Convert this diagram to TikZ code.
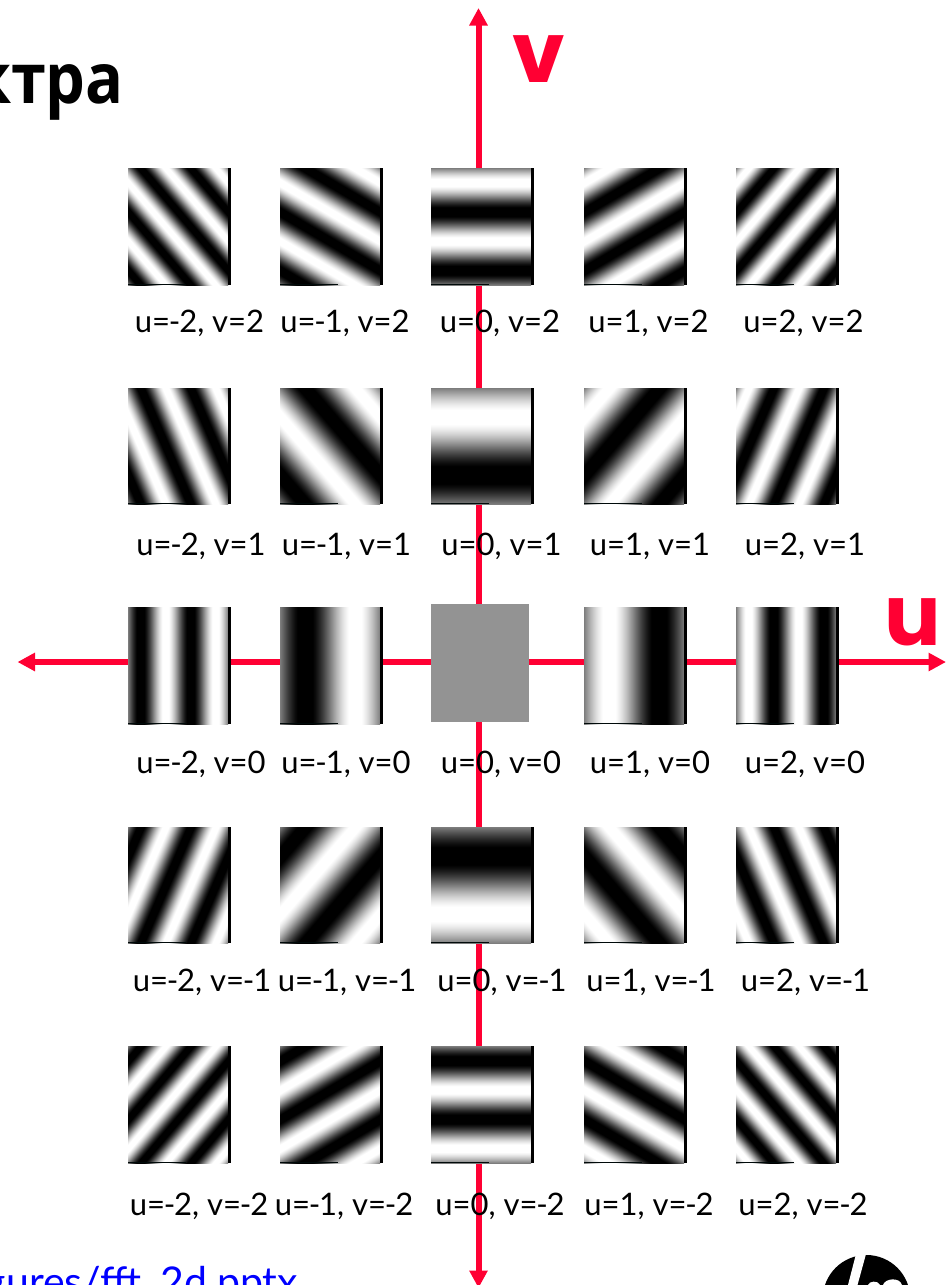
\documentclass[tikz,border=0pt]{standalone}
\usepackage{fontspec}
\setmainfont{Lato}
\newfontfamily\axisfont{Poppins}
\newfontfamily\titlefont{Open Sans}
\usetikzlibrary{arrows.meta}
\definecolor{axisred}{HTML}{FF0033}
\definecolor{centergray}{HTML}{939393}
\definecolor{linkblue}{HTML}{0000FF}
% sinusoidal grating: x,y on the stack in 0..100bp, the path's box maps to 25..75
\newcommand\mkgrating[2]{%
  \pgfdeclarefunctionalshading{grat#1#2}{\pgfpointorigin}{\pgfpoint{100bp}{100bp}}{}{%
    75 exch sub #2 7.2 mul mul exch 25 sub #1 7.2 mul mul add sin 0.55 mul 0.49 add dup dup}}
\foreach \a in {-2,-1,0,1,2}{\foreach \b in {-2,-1,0,1,2}{%
  \edef\tmp{\noexpand\mkgrating{\a}{\b}}\tmp}}
\newcommand\mn{\kern-1.2pt-\kern-1.2pt}
\tikzset{
  axisline/.style={draw=axisred,line width=6pt,{Triangle[width=17.5pt,length=17.5pt]}-{Triangle[width=17.5pt,length=17.5pt]}},
  lab/.style={font=\fontsize{31}{36}\selectfont,text=black,inner sep=0pt,anchor=base},
  biglet/.style={font=\axisfont\bfseries\fontsize{84}{90}\selectfont,text=axisred,inner sep=0pt,anchor=base},
}
% #1 left, #2 top, #3 height, #4 u, #5 v
\newcommand\gratimg[5]{%
  \shade[shading=grat#4#5] (#1,#2) rectangle ++(100,#3);
  \fill[black] (#1+100,#2) rectangle ++(3,#3);
  \fill[black!92!teal] (#1,#2+#3-1) rectangle ++(58,1);
}
\begin{document}
\begin{tikzpicture}[x=1pt,y=-1pt]
\useasboundingbox (0,0) rectangle (946,1285);
\clip (0,0) rectangle (946,1285);
\fill[white] (0,0) rectangle (946,1285);
% axes
\coordinate (vtop) at (478.5,8);
\coordinate (vbot) at (478.5,1288);
\coordinate (hleft) at (17.5,662);
\coordinate (hright) at (946,662);
\draw[axisline] (vbot) -- (vtop);
\draw[axisline] (hleft) -- (hright);
% gratings
\gratimg{128}{168}{117}{-2}{2}
\gratimg{280}{168}{117}{-1}{2}
\gratimg{431}{168}{117}{0}{2}
\gratimg{584}{168}{117}{1}{2}
\gratimg{736}{168}{117}{2}{2}
\gratimg{128}{388}{116}{-2}{1}
\gratimg{280}{388}{116}{-1}{1}
\gratimg{431}{388}{116}{0}{1}
\gratimg{584}{388}{116}{1}{1}
\gratimg{736}{388}{116}{2}{1}
\gratimg{128}{607}{117}{-2}{0}
\gratimg{280}{607}{117}{-1}{0}
\fill[centergray] (431,604) rectangle (529,722);
\gratimg{584}{607}{117}{1}{0}
\gratimg{736}{607}{117}{2}{0}
\gratimg{128}{827}{116}{-2}{-1}
\gratimg{280}{827}{116}{-1}{-1}
\gratimg{431}{827}{116}{0}{-1}
\gratimg{584}{827}{116}{1}{-1}
\gratimg{736}{827}{116}{2}{-1}
\gratimg{128}{1046}{117}{-2}{-2}
\gratimg{280}{1046}{117}{-1}{-2}
\gratimg{431}{1046}{117}{0}{-2}
\gratimg{584}{1046}{117}{1}{-2}
\gratimg{736}{1046}{117}{2}{-2}
% labels
\node[lab] (a1) at (199.5,332) {u=\mn2, v=2};
\node[lab] (a2) at (345,332) {u=\mn1, v=2};
\node[lab] (a3) at (500,332) {u=0, v=2};
\node[lab] (a4) at (648.5,332) {u=1, v=2};
\node[lab] (a5) at (803.5,332) {u=2, v=2};
\node[lab] (b1) at (201,555) {u=\mn2, v=1};
\node[lab] (b2) at (346.5,555) {u=\mn1, v=1};
\node[lab] (b3) at (501.5,555) {u=0, v=1};
\node[lab] (b4) at (650,555) {u=1, v=1};
\node[lab] (b5) at (805,555) {u=2, v=1};
\node[lab] (c1) at (201,773) {u=\mn2, v=0};
\node[lab] (c2) at (346,773) {u=\mn1, v=0};
\node[lab] (c3) at (501,773) {u=0, v=0};
\node[lab] (c4) at (650,773) {u=1, v=0};
\node[lab] (c5) at (805,773) {u=2, v=0};
\node[lab] (d1) at (202,991) {u=\mn2, v=\mn1};
\node[lab] (d2) at (347,991) {u=\mn1, v=\mn1};
\node[lab] (d3) at (502,991) {u=0, v=\mn1};
\node[lab] (d4) at (651,991) {u=1, v=\mn1};
\node[lab] (d5) at (805.5,991) {u=2, v=\mn1};
\node[lab] (e1) at (199,1215) {u=\mn2, v=\mn2};
\node[lab] (e2) at (344,1215) {u=\mn1, v=\mn2};
\node[lab] (e3) at (500,1215) {u=0, v=\mn2};
\node[lab] (e4) at (649,1215) {u=1, v=\mn2};
\node[lab] (e5) at (803,1215) {u=2, v=\mn2};
% axis letters
\node[biglet] (vlet) at (539,82) {v};
\node[biglet] (ulet) at (913,645) {u};
% title fragment, link fragment
\node[inner sep=0pt,anchor=base east,xscale=0.9,font=\titlefont\bfseries\fontsize{70}{71}\selectfont] (title) at (124,103) {ктра};
\node[inner sep=0pt,anchor=base east,text=linkblue,font=\fontsize{41}{44}\selectfont] (link) at (298,1296) {gures/fft\_2d.pptx};
% logo
\fill[black] (866.5,1298.7) circle[radius=43.7];
\fill[white] (856,1254) -- (866,1254) -- (857.5,1285) -- (848,1285) -- cycle;
\fill[white] (868,1285) .. controls (869,1281) and (878,1280) .. (880,1285) -- cycle;
\fill[white] (883,1285) .. controls (885,1278) and (900,1277) .. (902,1285) -- cycle;
\end{tikzpicture}
\end{document}
